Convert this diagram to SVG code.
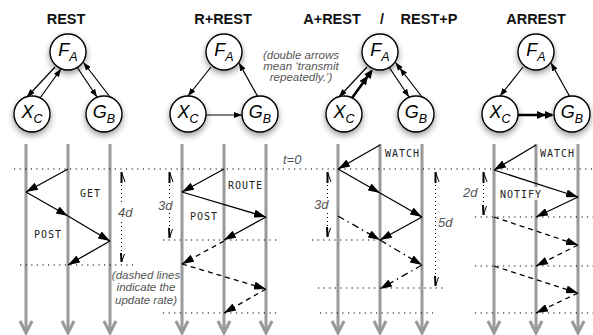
<svg xmlns="http://www.w3.org/2000/svg" width="593" height="335" viewBox="0 0 593 335">
<style>
.title{font-family:"Liberation Sans",Arial,sans-serif;font-weight:bold;font-size:14.5px;fill:#111;text-anchor:middle}
.node circle{fill:#fff;stroke:#000;stroke-width:1.4;filter:url(#sh)}
.nl{font-family:"Liberation Sans",Arial,sans-serif;font-style:italic;font-size:18px;fill:#000;text-anchor:middle}
.sub{font-size:12.5px}
.life{stroke:#999;stroke-width:3;fill:none}
.dot{stroke:#000;stroke-width:1.2;stroke-dasharray:1.2 4.4;fill:none}
.vdot{stroke:#000;stroke-width:1;stroke-dasharray:1 3;fill:none}
.ge{stroke:#000;stroke-width:1.2;fill:none}
.get{stroke:#000;stroke-width:2.6;fill:none}
.msg{stroke:#000;stroke-width:1.3;fill:none;marker-end:url(#sa)}
.dash{stroke-dasharray:5 4}
.dd{stroke-dasharray:7 4 1.5 4}
.mono{font-family:"DejaVu Sans Mono","Liberation Mono",monospace;font-size:10px;letter-spacing:1px;fill:#222}
.it{font-family:"Liberation Sans",Arial,sans-serif;font-style:italic;font-size:11.5px;fill:#555}
.dl{font-family:"Liberation Sans",Arial,sans-serif;font-style:italic;font-size:13px;fill:#555}
.hk{stroke:#000;fill:none}
</style>
<defs>
<filter id="sh" x="-40%" y="-40%" width="180%" height="190%">
<feDropShadow dx="0" dy="3" stdDeviation="3" flood-color="#000" flood-opacity="0.4"/>
</filter>
<marker id="ga" viewBox="0 0 8 6" refX="8" refY="3" markerWidth="8" markerHeight="6" orient="auto" markerUnits="userSpaceOnUse"><path d="M0,0 L8,3 L0,6 z"/></marker>
<marker id="gd" viewBox="0 0 15 6" refX="15" refY="3" markerWidth="15" markerHeight="6" orient="auto" markerUnits="userSpaceOnUse"><path d="M0,0 L8,3 L0,6 z M7,0 L15,3 L7,6 z"/></marker>
<marker id="gdt" viewBox="0 0 17 8" refX="15" refY="4" markerWidth="17" markerHeight="8" orient="auto" markerUnits="userSpaceOnUse"><path d="M0,0 L9,4 L0,8 z M8,0 L17,4 L8,8 z"/></marker>
<marker id="sa" viewBox="0 0 12 8" refX="12" refY="4" markerWidth="12" markerHeight="8" orient="auto" markerUnits="userSpaceOnUse"><path d="M0,0 L12,4 L0,8 z"/></marker>
</defs>

<g id="titles">
<text class="title" x="66" y="24">REST</text>
<text class="title" x="223" y="24">R+REST</text>
<text class="title" x="332" y="24">A+REST</text>
<text class="title" x="382" y="24">/</text>
<text class="title" x="429" y="24">REST+P</text>
<text class="title" x="536" y="24">ARREST</text>
</g>

<g id="lifelines">
<path class="life" d="M26,144V332 M68,144V332 M110,144V332 M182,144V332 M224,144V332 M266,144V332 M338,144V332 M380,144V332 M422,144V332 M494,144V332 M536,144V332 M578,144V332"/>
<path class="life" d="M20,321L26,333L32,321 M62,321L68,333L74,321 M104,321L110,333L116,321 M176,321L182,333L188,321 M218,321L224,333L230,321 M260,321L266,333L272,321 M332,321L338,333L344,321 M374,321L380,333L386,321 M416,321L422,333L428,321 M488,321L494,333L500,321 M530,321L536,333L542,321 M572,321L578,333L584,321"/>
</g>

<g id="nodes">
<g id="rest-F" class="node"><circle cx="68" cy="52" r="18"/><text class="nl" x="68" y="56">F<tspan class="sub" dy="5">A</tspan></text></g>
<g id="rest-X" class="node"><circle cx="32" cy="114" r="18"/><text class="nl" x="32" y="118">X<tspan class="sub" dy="5">C</tspan></text></g>
<g id="rest-G" class="node"><circle cx="104" cy="114" r="18"/><text class="nl" x="104" y="118">G<tspan class="sub" dy="5">B</tspan></text></g>
<g id="rrest-F" class="node"><circle cx="224" cy="52" r="18"/><text class="nl" x="224" y="56">F<tspan class="sub" dy="5">A</tspan></text></g>
<g id="rrest-X" class="node"><circle cx="188" cy="114" r="18"/><text class="nl" x="188" y="118">X<tspan class="sub" dy="5">C</tspan></text></g>
<g id="rrest-G" class="node"><circle cx="260" cy="114" r="18"/><text class="nl" x="260" y="118">G<tspan class="sub" dy="5">B</tspan></text></g>
<g id="arest-F" class="node"><circle cx="380" cy="52" r="18"/><text class="nl" x="380" y="56">F<tspan class="sub" dy="5">A</tspan></text></g>
<g id="arest-X" class="node"><circle cx="344" cy="114" r="18"/><text class="nl" x="344" y="118">X<tspan class="sub" dy="5">C</tspan></text></g>
<g id="arest-G" class="node"><circle cx="416" cy="114" r="18"/><text class="nl" x="416" y="118">G<tspan class="sub" dy="5">B</tspan></text></g>
<g id="arrest-F" class="node"><circle cx="536" cy="52" r="18"/><text class="nl" x="536" y="56">F<tspan class="sub" dy="5">A</tspan></text></g>
<g id="arrest-X" class="node"><circle cx="500" cy="114" r="18"/><text class="nl" x="500" y="118">X<tspan class="sub" dy="5">C</tspan></text></g>
<g id="arrest-G" class="node"><circle cx="572" cy="114" r="18"/><text class="nl" x="572" y="118">G<tspan class="sub" dy="5">B</tspan></text></g>
</g>

<g id="connectors">
<!-- REST graph -->
<path class="ge" marker-end="url(#ga)" d="M55,67L27,97"/>
<path class="ge" marker-end="url(#ga)" d="M40,98L61,69"/>
<path class="ge" marker-end="url(#ga)" d="M77,67L97,97"/>
<path class="ge" marker-end="url(#ga)" d="M110,97L83.5,62.5"/>
<!-- R+REST graph -->
<path class="ge" marker-end="url(#ga)" d="M211,67L188,96"/>
<path class="ge" marker-end="url(#ga)" d="M206,115L242,115"/>
<path class="ge" marker-end="url(#ga)" d="M258,97L239,63"/>
<!-- A+REST graph -->
<path class="ge" marker-end="url(#ga)" d="M367,67L339,97"/>
<path class="get" marker-end="url(#gdt)" d="M352,98L371.5,71"/>
<path class="ge" marker-end="url(#ga)" d="M389,67L409,97"/>
<path class="ge" marker-end="url(#gd)" d="M422,97L395.5,62.5"/>
<!-- ARREST graph -->
<path class="ge" marker-end="url(#ga)" d="M523,67L500,96"/>
<path class="get" marker-end="url(#gdt)" d="M518,115L552,115"/>
<path class="ge" marker-end="url(#ga)" d="M570,97L551,63"/>

<!-- dotted time lines -->
<path class="dot" d="M14,169H593"/>
<path class="dot" d="M20,265H133"/>
<path class="dot" d="M163,240H278 M163,313H278"/>
<path class="dot" d="M312,240H380 M318,288H445 M320,313H433"/>
<path class="dot" d="M475,217H593 M475,266H593 M475,313H593"/>

<!-- REST sequence -->
<path class="msg" d="M68,169L26,192"/>
<path class="msg" d="M26,192L68,216"/>
<path class="msg" d="M68,216L110,241"/>
<path class="msg" d="M110,241L68,265"/>
<!-- R+REST sequence -->
<path class="msg" d="M224,169L182,192"/>
<path class="msg" d="M182,192L266,217"/>
<path class="msg" d="M266,217L224,240"/>
<path class="msg dash" d="M224,241L182,264"/>
<path class="msg dash" d="M182,264L266,289"/>
<path class="msg dash" d="M266,289L224,313"/>
<!-- A+REST sequence -->
<path class="msg" d="M380,145L338,169"/>
<path class="msg" d="M338,169L380,193"/>
<path class="msg" d="M380,193L422,217"/>
<path class="msg" d="M422,217L380,240"/>
<path class="msg dd" d="M338,216L380,240"/>
<path class="msg dd" d="M380,240L422,265"/>
<path class="msg dd" d="M422,265L380,289"/>
<!-- ARREST sequence -->
<path class="msg" d="M536,145L494,170"/>
<path class="msg" d="M494,170L578,197"/>
<path class="msg" d="M578,197L536,217"/>
<path class="msg dash" d="M494,217L578,245"/>
<path class="msg dash" d="M578,245L536,266"/>
<path class="msg dash" d="M494,266L578,293"/>
<path class="msg dash" d="M578,293L536,313"/>

<!-- delay markers -->
<path class="vdot" d="M121.5,185V204 M121.5,222V252"/>
<path class="hk" stroke-width="2" d="M121.5,183V172 M121,253L121.5,262"/>
<path class="hk" stroke-width="1" d="M121.5,172L125,182 M124.5,254L121.5,262"/>

<path class="vdot" d="M169.5,185V198 M169.5,213V228"/>
<path class="hk" stroke-width="2" d="M169.5,183V172 M169,228L169.5,238"/>
<path class="hk" stroke-width="1" d="M169.5,172L173,182 M172.5,229L169.5,238"/>

<path class="vdot" d="M327.5,185V198 M327.5,213V227"/>
<path class="hk" stroke-width="2" d="M327.5,183V172 M327,227L327.5,237"/>
<path class="hk" stroke-width="1" d="M327.5,172L331,182 M330.5,228L327.5,237"/>

<path class="vdot" d="M435.5,185V276"/>
<path class="hk" stroke-width="2" d="M435.5,183V172 M435,276L435.5,286"/>
<path class="hk" stroke-width="1" d="M435.5,172L439,182 M438.5,277L435.5,286"/>

<path class="vdot" d="M483.5,185V204"/>
<path class="hk" stroke-width="2" d="M483.5,183V172 M483,205L483.5,215"/>
<path class="hk" stroke-width="1" d="M483.5,172L487,182 M486.5,206L483.5,215"/>
</g>

<g id="labels">
<text class="mono" x="80" y="197">GET</text>
<text class="mono" x="34" y="238">POST</text>
<text class="mono" x="228" y="189">ROUTE</text>
<text class="mono" x="190" y="220">POST</text>
<text class="mono" x="385" y="157">WATCH</text>
<text class="mono" x="540" y="157">WATCH</text>
<rect x="532" y="187" width="10" height="13" fill="#fff" opacity="0.85"/>
<text class="mono" x="500" y="198">NOTIFY</text>
<text class="dl" x="118" y="217">4d</text>
<text class="dl" x="158" y="210">3d</text>
<text class="dl" x="314" y="209">3d</text>
<text class="dl" x="438" y="227">5d</text>
<text class="dl" x="463" y="197">2d</text>
<text class="dl" x="283" y="164">t=0</text>
<text class="it" text-anchor="middle"><tspan x="301" y="59">(double arrows</tspan><tspan x="301" y="70">mean ‘transmit</tspan><tspan x="301" y="81">repeatedly.’)</tspan></text>
<text class="it" text-anchor="middle"><tspan x="146" y="279">(dashed lines</tspan><tspan x="146" y="291">indicate the</tspan><tspan x="146" y="304">update rate)</tspan></text>
</g>
</svg>
